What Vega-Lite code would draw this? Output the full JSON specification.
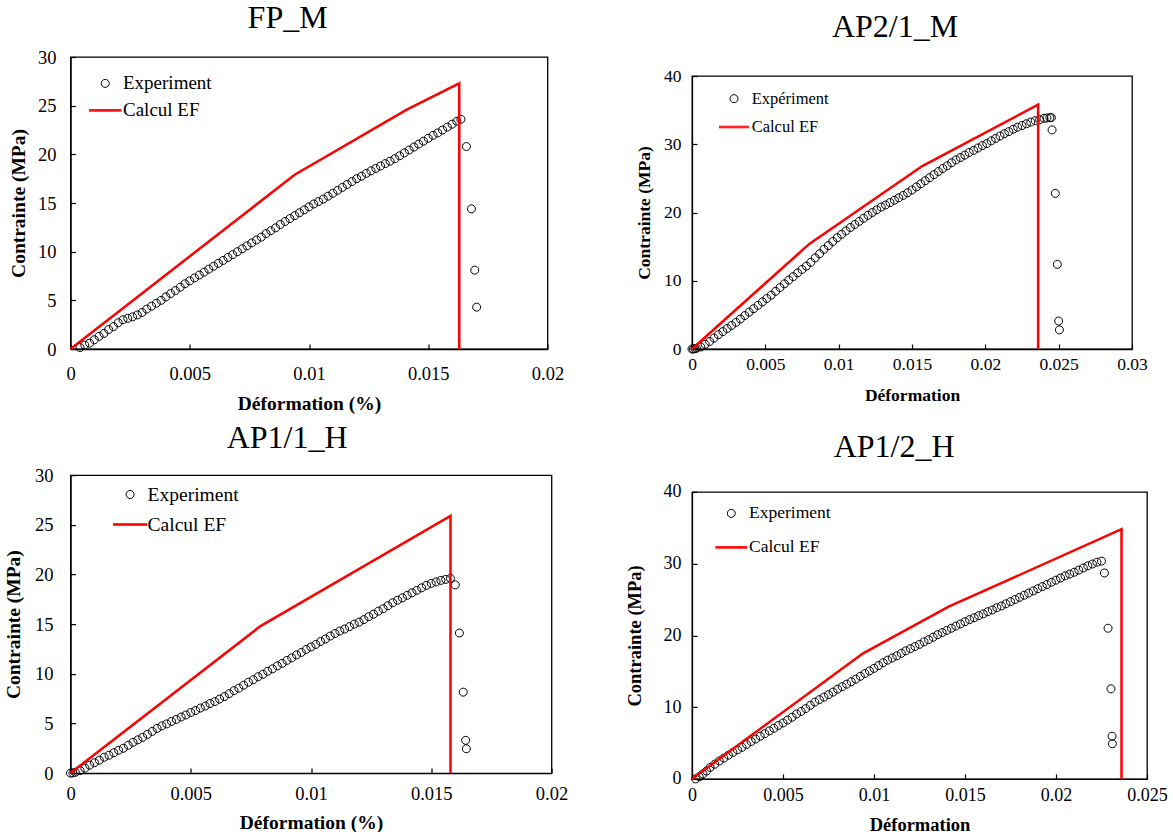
{
"$schema":"https://vega.github.io/schema/vega-lite/v6.json",
"background":"white",
"padding":{"left":2.5,"top":1,"right":5,"bottom":0},
"spacing":55.5,
"resolve":{"scale":{"x":"independent","y":"independent","stroke":"independent","shape":"independent"},"legend":{"stroke":"independent","shape":"independent"}},
"config":{
 "view":{"stroke":"black","strokeWidth":1.3},
 "axis":{"labelFont":"Liberation Serif","titleFont":"Liberation Serif","labelColor":"black","titleColor":"black","domainColor":"black","tickColor":"black","grid":false,"titleFontWeight":"bold","domainWidth":1.3,"tickWidth":1.2,"tickSize":-5,"labelOverlap":false,"labelFlush":false},
 "legend":{"labelFont":"Liberation Serif","labelColor":"black","padding":0,"symbolSize":400,"symbolStrokeWidth":1,"orient":"none"},
 "title":{"font":"Liberation Serif","fontWeight":"normal","color":"black","fontSize":32,"anchor":"middle","frame":"bounds"}
},
"datasets":{
"p1e":[{"x":0.0004,"y":0.15},{"x":0.0006,"y":0.4},{"x":0.0008,"y":0.6},{"x":0.001,"y":0.95},{"x":0.0012,"y":1.3},{"x":0.0014,"y":1.6},{"x":0.0016,"y":2.0},{"x":0.0018,"y":2.3},{"x":0.002,"y":2.7},{"x":0.0022,"y":3.0},{"x":0.0024,"y":3.15},{"x":0.0026,"y":3.3},{"x":0.0028,"y":3.5},{"x":0.003,"y":3.75},{"x":0.0032,"y":4.1},{"x":0.0034,"y":4.4},{"x":0.0036,"y":4.7},{"x":0.0038,"y":5.0},{"x":0.004,"y":5.35},{"x":0.0042,"y":5.7},{"x":0.0044,"y":6.0},{"x":0.0046,"y":6.35},{"x":0.0048,"y":6.7},{"x":0.005,"y":7.0},{"x":0.0052,"y":7.3},{"x":0.0054,"y":7.6},{"x":0.0056,"y":7.9},{"x":0.0058,"y":8.2},{"x":0.006,"y":8.5},{"x":0.0062,"y":8.8},{"x":0.0064,"y":9.1},{"x":0.0066,"y":9.4},{"x":0.0068,"y":9.7},{"x":0.007,"y":10.0},{"x":0.0072,"y":10.3},{"x":0.0074,"y":10.6},{"x":0.0076,"y":10.9},{"x":0.0078,"y":11.2},{"x":0.008,"y":11.5},{"x":0.0082,"y":11.85},{"x":0.0084,"y":12.15},{"x":0.0086,"y":12.45},{"x":0.0088,"y":12.8},{"x":0.009,"y":13.1},{"x":0.0092,"y":13.4},{"x":0.0094,"y":13.7},{"x":0.0096,"y":14.0},{"x":0.0098,"y":14.3},{"x":0.01,"y":14.6},{"x":0.0102,"y":14.9},{"x":0.0104,"y":15.15},{"x":0.0106,"y":15.4},{"x":0.0108,"y":15.7},{"x":0.011,"y":16.0},{"x":0.0112,"y":16.3},{"x":0.0114,"y":16.6},{"x":0.0116,"y":16.9},{"x":0.0118,"y":17.2},{"x":0.012,"y":17.5},{"x":0.0122,"y":17.75},{"x":0.0124,"y":18.05},{"x":0.0126,"y":18.3},{"x":0.0128,"y":18.55},{"x":0.013,"y":18.8},{"x":0.0132,"y":19.05},{"x":0.0134,"y":19.3},{"x":0.0136,"y":19.55},{"x":0.0138,"y":19.85},{"x":0.014,"y":20.15},{"x":0.0142,"y":20.45},{"x":0.0144,"y":20.75},{"x":0.0146,"y":21.05},{"x":0.0148,"y":21.35},{"x":0.015,"y":21.65},{"x":0.0152,"y":21.95},{"x":0.0154,"y":22.2},{"x":0.0156,"y":22.5},{"x":0.0158,"y":22.8},{"x":0.016,"y":23.1},{"x":0.0162,"y":23.4},{"x":0.01637,"y":23.6},{"x":0.0166,"y":20.8},{"x":0.01681,"y":14.4},{"x":0.01695,"y":8.1},{"x":0.01703,"y":4.3}],
"p1c":[{"x":0,"y":0},{"x":0.0094,"y":17.9},{"x":0.0141,"y":24.6},{"x":0.0163,"y":27.3},{"x":0.0163,"y":0}],
"p2e":[{"x":0,"y":0},{"x":0.0001,"y":0},{"x":0.0002,"y":0.05},{"x":0.0003,"y":0.1},{"x":0.0006,"y":0.3},{"x":0.0009,"y":0.7},{"x":0.0012,"y":1.1},{"x":0.0015,"y":1.6},{"x":0.0018,"y":2.1},{"x":0.0021,"y":2.55},{"x":0.0024,"y":3.0},{"x":0.0027,"y":3.45},{"x":0.003,"y":3.9},{"x":0.0033,"y":4.4},{"x":0.0036,"y":4.9},{"x":0.0039,"y":5.4},{"x":0.0042,"y":5.9},{"x":0.0045,"y":6.4},{"x":0.0048,"y":6.9},{"x":0.0051,"y":7.4},{"x":0.0054,"y":7.9},{"x":0.0057,"y":8.45},{"x":0.006,"y":9.0},{"x":0.0063,"y":9.55},{"x":0.0066,"y":10.1},{"x":0.0069,"y":10.6},{"x":0.0072,"y":11.15},{"x":0.0075,"y":11.65},{"x":0.0078,"y":12.15},{"x":0.0081,"y":12.7},{"x":0.0084,"y":13.35},{"x":0.0087,"y":13.95},{"x":0.009,"y":14.6},{"x":0.0093,"y":15.15},{"x":0.0096,"y":15.75},{"x":0.0099,"y":16.3},{"x":0.0102,"y":16.8},{"x":0.0105,"y":17.3},{"x":0.0108,"y":17.8},{"x":0.0111,"y":18.25},{"x":0.0114,"y":18.7},{"x":0.0117,"y":19.15},{"x":0.012,"y":19.6},{"x":0.0123,"y":20.0},{"x":0.0126,"y":20.4},{"x":0.0129,"y":20.8},{"x":0.0132,"y":21.1},{"x":0.0135,"y":21.45},{"x":0.0138,"y":21.8},{"x":0.0141,"y":22.15},{"x":0.0144,"y":22.5},{"x":0.0147,"y":22.9},{"x":0.015,"y":23.3},{"x":0.0153,"y":23.75},{"x":0.0156,"y":24.2},{"x":0.0159,"y":24.65},{"x":0.0162,"y":25.1},{"x":0.0165,"y":25.55},{"x":0.0168,"y":26.0},{"x":0.0171,"y":26.45},{"x":0.0174,"y":26.85},{"x":0.0177,"y":27.3},{"x":0.018,"y":27.7},{"x":0.0183,"y":28.05},{"x":0.0186,"y":28.4},{"x":0.0189,"y":28.8},{"x":0.0192,"y":29.1},{"x":0.0195,"y":29.45},{"x":0.0198,"y":29.8},{"x":0.0201,"y":30.1},{"x":0.0204,"y":30.5},{"x":0.0207,"y":30.85},{"x":0.021,"y":31.2},{"x":0.0213,"y":31.55},{"x":0.0216,"y":31.85},{"x":0.0219,"y":32.2},{"x":0.0222,"y":32.5},{"x":0.0225,"y":32.75},{"x":0.0228,"y":33.0},{"x":0.0231,"y":33.25},{"x":0.0234,"y":33.45},{"x":0.0237,"y":33.6},{"x":0.024,"y":33.8},{"x":0.0242,"y":33.85},{"x":0.0244,"y":33.9},{"x":0.0245,"y":33.9},{"x":0.02455,"y":32.1},{"x":0.02477,"y":22.8},{"x":0.02491,"y":12.4},{"x":0.025,"y":4.1},{"x":0.02505,"y":2.8}],
"p2c":[{"x":0,"y":0},{"x":0.008,"y":15.4},{"x":0.0157,"y":26.8},{"x":0.0236,"y":35.8},{"x":0.0236,"y":0}],
"p3e":[{"x":0,"y":0},{"x":0.0001,"y":0.02},{"x":0.0002,"y":0.08},{"x":0.0004,"y":0.25},{"x":0.0006,"y":0.5},{"x":0.0008,"y":0.8},{"x":0.001,"y":1.05},{"x":0.0012,"y":1.3},{"x":0.0014,"y":1.6},{"x":0.0016,"y":1.8},{"x":0.0018,"y":2.05},{"x":0.002,"y":2.3},{"x":0.0022,"y":2.5},{"x":0.0024,"y":2.8},{"x":0.0026,"y":3.1},{"x":0.0028,"y":3.35},{"x":0.003,"y":3.6},{"x":0.0032,"y":3.9},{"x":0.0034,"y":4.2},{"x":0.0036,"y":4.5},{"x":0.0038,"y":4.75},{"x":0.004,"y":4.95},{"x":0.0042,"y":5.2},{"x":0.0044,"y":5.4},{"x":0.0046,"y":5.65},{"x":0.0048,"y":5.85},{"x":0.005,"y":6.1},{"x":0.0052,"y":6.3},{"x":0.0054,"y":6.55},{"x":0.0056,"y":6.75},{"x":0.0058,"y":7.0},{"x":0.006,"y":7.2},{"x":0.0062,"y":7.45},{"x":0.0064,"y":7.7},{"x":0.0066,"y":8.0},{"x":0.0068,"y":8.3},{"x":0.007,"y":8.55},{"x":0.0072,"y":8.85},{"x":0.0074,"y":9.15},{"x":0.0076,"y":9.4},{"x":0.0078,"y":9.7},{"x":0.008,"y":9.95},{"x":0.0082,"y":10.25},{"x":0.0084,"y":10.5},{"x":0.0086,"y":10.8},{"x":0.0088,"y":11.05},{"x":0.009,"y":11.35},{"x":0.0092,"y":11.6},{"x":0.0094,"y":11.9},{"x":0.0096,"y":12.15},{"x":0.0098,"y":12.45},{"x":0.01,"y":12.7},{"x":0.0102,"y":12.95},{"x":0.0104,"y":13.25},{"x":0.0106,"y":13.5},{"x":0.0108,"y":13.8},{"x":0.011,"y":14.05},{"x":0.0112,"y":14.3},{"x":0.0114,"y":14.5},{"x":0.0116,"y":14.75},{"x":0.0118,"y":15.0},{"x":0.012,"y":15.2},{"x":0.0122,"y":15.45},{"x":0.0124,"y":15.75},{"x":0.0126,"y":16.0},{"x":0.0128,"y":16.3},{"x":0.013,"y":16.55},{"x":0.0132,"y":16.85},{"x":0.0134,"y":17.15},{"x":0.0136,"y":17.4},{"x":0.0138,"y":17.65},{"x":0.014,"y":17.9},{"x":0.0142,"y":18.15},{"x":0.0144,"y":18.4},{"x":0.0146,"y":18.65},{"x":0.0148,"y":18.9},{"x":0.015,"y":19.1},{"x":0.0152,"y":19.25},{"x":0.0154,"y":19.4},{"x":0.0156,"y":19.5},{"x":0.0158,"y":19.6},{"x":0.016,"y":18.95},{"x":0.01617,"y":14.1},{"x":0.01633,"y":8.15},{"x":0.01643,"y":3.3},{"x":0.01646,"y":2.45}],
"p3c":[{"x":0,"y":0},{"x":0.0079,"y":14.8},{"x":0.0158,"y":25.9},{"x":0.0158,"y":0}],
"p4e":[{"x":0.0002,"y":0.0},{"x":0.0004,"y":0.3},{"x":0.0006,"y":0.7},{"x":0.0008,"y":1.1},{"x":0.001,"y":1.6},{"x":0.00125,"y":2.05},{"x":0.0015,"y":2.5},{"x":0.00175,"y":2.9},{"x":0.002,"y":3.3},{"x":0.00225,"y":3.7},{"x":0.0025,"y":4.05},{"x":0.00275,"y":4.4},{"x":0.003,"y":4.8},{"x":0.00325,"y":5.2},{"x":0.0035,"y":5.55},{"x":0.00375,"y":5.95},{"x":0.004,"y":6.3},{"x":0.00425,"y":6.7},{"x":0.0045,"y":7.05},{"x":0.00475,"y":7.45},{"x":0.005,"y":7.8},{"x":0.00525,"y":8.2},{"x":0.0055,"y":8.6},{"x":0.00575,"y":9.05},{"x":0.006,"y":9.4},{"x":0.00625,"y":9.8},{"x":0.0065,"y":10.25},{"x":0.00675,"y":10.7},{"x":0.007,"y":11.05},{"x":0.00725,"y":11.4},{"x":0.0075,"y":11.75},{"x":0.00775,"y":12.1},{"x":0.008,"y":12.5},{"x":0.00825,"y":12.85},{"x":0.0085,"y":13.2},{"x":0.00875,"y":13.55},{"x":0.009,"y":13.9},{"x":0.00925,"y":14.3},{"x":0.0095,"y":14.7},{"x":0.00975,"y":15.05},{"x":0.01,"y":15.4},{"x":0.01025,"y":15.8},{"x":0.0105,"y":16.2},{"x":0.01075,"y":16.55},{"x":0.011,"y":16.85},{"x":0.01125,"y":17.15},{"x":0.0115,"y":17.5},{"x":0.01175,"y":17.85},{"x":0.012,"y":18.15},{"x":0.01225,"y":18.45},{"x":0.0125,"y":18.75},{"x":0.01275,"y":19.1},{"x":0.013,"y":19.4},{"x":0.01325,"y":19.75},{"x":0.0135,"y":20.1},{"x":0.01375,"y":20.4},{"x":0.014,"y":20.7},{"x":0.01425,"y":21.0},{"x":0.0145,"y":21.3},{"x":0.01475,"y":21.6},{"x":0.015,"y":21.9},{"x":0.01525,"y":22.2},{"x":0.0155,"y":22.45},{"x":0.01575,"y":22.75},{"x":0.016,"y":23.0},{"x":0.01625,"y":23.3},{"x":0.0165,"y":23.55},{"x":0.01675,"y":23.85},{"x":0.017,"y":24.1},{"x":0.01725,"y":24.4},{"x":0.0175,"y":24.7},{"x":0.01775,"y":25.0},{"x":0.018,"y":25.3},{"x":0.01825,"y":25.6},{"x":0.0185,"y":25.9},{"x":0.01875,"y":26.2},{"x":0.019,"y":26.5},{"x":0.01925,"y":26.8},{"x":0.0195,"y":27.1},{"x":0.01975,"y":27.4},{"x":0.02,"y":27.7},{"x":0.02025,"y":28.0},{"x":0.0205,"y":28.3},{"x":0.02075,"y":28.55},{"x":0.021,"y":28.8},{"x":0.02125,"y":29.1},{"x":0.0215,"y":29.4},{"x":0.02175,"y":29.7},{"x":0.022,"y":29.95},{"x":0.02225,"y":30.2},{"x":0.0225,"y":30.35},{"x":0.02266,"y":28.7},{"x":0.02286,"y":21.0},{"x":0.02302,"y":12.55},{"x":0.02308,"y":5.95},{"x":0.0231,"y":4.9}],
"p4c":[{"x":0,"y":0},{"x":0.0094,"y":17.5},{"x":0.0141,"y":24.0},{"x":0.0236,"y":34.8},{"x":0.0236,"y":0}]
},
"hconcat":[
{"vconcat":[
 {"width":477,"height":292,
  "title":{"text":"FP_M","offset":13,"dx":1.5},
  "layer":[
   {"data":{"name":"p1e"},"mark":{"type":"point","filled":false,"size":400,"strokeWidth":1,"opacity":1},
    "encoding":{
     "x":{"field":"x","type":"quantitative","scale":{"domain":[0,0.02],"nice":false},"axis":{"values":[0,0.005,0.01,0.015,0.02],"format":"~g","title":"Déformation (%)","labelFontSize":18.5,"titleFontSize":19.5,"labelPadding":20,"titlePadding":12}},
     "y":{"field":"y","type":"quantitative","scale":{"domain":[0,30],"nice":false},"axis":{"values":[0,5,10,15,20,25,30],"title":"Contrainte (MPa)","labelFontSize":18.5,"titleFontSize":19.5,"labelPadding":19.5,"titlePadding":9}},
     "shape":{"datum":"Experiment","type":"nominal","scale":{"domain":["Experiment","Calcul EF"],"range":["M-0.4,0A0.4,0.4 0 1,0 0.4,0A0.4,0.4 0 1,0 -0.4,0Z","M-1.62,-0.08H1.62M-1.62,0H1.62M-1.62,0.08H1.62"]},
      "legend":{"title":null,"legendX":24.25,"legendY":15.9,"labelFontSize":19,"labelOffset":7.25,"rowPadding":6}},
     "stroke":{"datum":"Experiment","type":"nominal","scale":{"domain":["Experiment","Calcul EF"],"range":["black","red"]},
      "legend":{"title":null,"legendX":24.25,"legendY":15.9,"labelFontSize":19,"labelOffset":7.25,"rowPadding":6}}}},
   {"data":{"name":"p1c"},"mark":{"type":"line","strokeWidth":2.5},
    "encoding":{"x":{"field":"x","type":"quantitative"},"y":{"field":"y","type":"quantitative"},
     "stroke":{"datum":"Calcul EF","type":"nominal"}}}
  ]},
 {"width":481,"height":298,
  "title":{"text":"AP1/1_H","offset":11,"dx":1.5},
  "layer":[
   {"data":{"name":"p3e"},"mark":{"type":"point","filled":false,"size":400,"strokeWidth":1,"opacity":1},
    "encoding":{
     "x":{"field":"x","type":"quantitative","scale":{"domain":[0,0.02],"nice":false},"axis":{"values":[0,0.005,0.01,0.015,0.02],"format":"~g","title":"Déformation (%)","labelFontSize":18.5,"titleFontSize":19.5,"labelPadding":16,"titlePadding":11}},
     "y":{"field":"y","type":"quantitative","scale":{"domain":[0,30],"nice":false},"axis":{"values":[0,5,10,15,20,25,30],"title":"Contrainte (MPa)","labelFontSize":18.5,"titleFontSize":19.5,"labelPadding":22.5,"titlePadding":11}},
     "shape":{"datum":"Experiment","type":"nominal","scale":{"domain":["Experiment","Calcul EF"],"range":["M-0.4,0A0.4,0.4 0 1,0 0.4,0A0.4,0.4 0 1,0 -0.4,0Z","M-1.7,-0.08H1.7M-1.7,0H1.7M-1.7,0.08H1.7"]},
      "legend":{"title":null,"legendX":49.1,"legendY":8.9,"labelFontSize":19.5,"labelOffset":7,"rowPadding":10}},
     "stroke":{"datum":"Experiment","type":"nominal","scale":{"domain":["Experiment","Calcul EF"],"range":["black","red"]},
      "legend":{"title":null,"legendX":49.1,"legendY":8.9,"labelFontSize":19.5,"labelOffset":7,"rowPadding":10}}}},
   {"data":{"name":"p3c"},"mark":{"type":"line","strokeWidth":2.5},
    "encoding":{"x":{"field":"x","type":"quantitative"},"y":{"field":"y","type":"quantitative"},
     "stroke":{"datum":"Calcul EF","type":"nominal"}}}
  ]}
 ],"spacing":7.1,
 "resolve":{"scale":{"x":"independent","y":"independent","stroke":"independent","shape":"independent"},"legend":{"stroke":"independent","shape":"independent"}}},
{"vconcat":[
 {"vconcat":[
  {"width":440,"height":8,"title":{"text":"AP2/1_M","offset":13,"dx":-17},"view":{"stroke":"transparent","fill":"transparent"},"data":{"values":[]},"mark":"point"},
  {"width":440,"height":273,
  "layer":[
   {"data":{"name":"p2e"},"mark":{"type":"point","filled":false,"size":400,"strokeWidth":1,"opacity":1},
    "encoding":{
     "x":{"field":"x","type":"quantitative","scale":{"domain":[0,0.03],"nice":false},"axis":{"values":[0,0.005,0.01,0.015,0.02,0.025,0.03],"format":"~g","title":"Déformation","labelFontSize":17.5,"titleFontSize":17.5,"labelPadding":11,"titlePadding":14}},
     "y":{"field":"y","type":"quantitative","scale":{"domain":[0,40],"nice":false},"axis":{"values":[0,5,10,15,20,25,30,35,40],"title":"Contrainte (MPa)","labelFontSize":17.5,"titleFontSize":17.5,"labelPadding":16,"titlePadding":10}},
     "shape":{"datum":"Experiment","type":"nominal","scale":{"domain":["Experiment","Calcul EF"],"range":["M-0.4,0A0.4,0.4 0 1,0 0.4,0A0.4,0.4 0 1,0 -0.4,0Z","M-1.5,-0.08H1.5M-1.5,0H1.5M-1.5,0.08H1.5"]},
      "legend":{"title":null,"legendX":31.5,"legendY":12.2,"labelFontSize":16.5,"labelOffset":7.2,"rowPadding":9.3,"labelExpr":"datum.label === 'Experiment' ? 'Expériment' : datum.label"}},
     "stroke":{"datum":"Experiment","type":"nominal","scale":{"domain":["Experiment","Calcul EF"],"range":["black","red"]},
      "legend":{"title":null,"legendX":31.5,"legendY":12.2,"labelFontSize":16.5,"labelOffset":7.2,"rowPadding":9.3,"labelExpr":"datum.label === 'Experiment' ? 'Expériment' : datum.label"}}}},
   {"data":{"name":"p2c"},"mark":{"type":"line","strokeWidth":2.5},
    "encoding":{"x":{"field":"x","type":"quantitative"},"y":{"field":"y","type":"quantitative"},
     "stroke":{"datum":"Calcul EF","type":"nominal"}}}
  ]}
 ],"spacing":0,
 "resolve":{"scale":{"x":"independent","y":"independent","stroke":"independent","shape":"independent"},"legend":{"stroke":"independent","shape":"independent"}}},
 {"width":455,"height":287,
  "title":{"text":"AP1/2_H","offset":19,"dx":-2},
  "layer":[
   {"data":{"name":"p4e"},"mark":{"type":"point","filled":false,"size":400,"strokeWidth":1,"opacity":1},
    "encoding":{
     "x":{"field":"x","type":"quantitative","scale":{"domain":[0,0.025],"nice":false},"axis":{"values":[0,0.005,0.01,0.015,0.02,0.025],"format":"~g","title":"Déformation","labelFontSize":18,"titleFontSize":18.5,"labelPadding":13,"titlePadding":11}},
     "y":{"field":"y","type":"quantitative","scale":{"domain":[0,40],"nice":false},"axis":{"values":[0,5,10,15,20,25,30,35,40],"title":"Contrainte (MPa)","labelFontSize":18,"titleFontSize":18.5,"labelPadding":16,"titlePadding":19}},
     "shape":{"datum":"Experiment","type":"nominal","scale":{"domain":["Experiment","Calcul EF"],"range":["M-0.4,0A0.4,0.4 0 1,0 0.4,0A0.4,0.4 0 1,0 -0.4,0Z","M-1.585,-0.08H1.585M-1.585,0H1.585M-1.585,0.08H1.585"]},
      "legend":{"title":null,"legendX":28.8,"legendY":11,"labelFontSize":17.5,"labelOffset":7.2,"rowPadding":15}},
     "stroke":{"datum":"Experiment","type":"nominal","scale":{"domain":["Experiment","Calcul EF"],"range":["black","red"]},
      "legend":{"title":null,"legendX":28.8,"legendY":11,"labelFontSize":17.5,"labelOffset":7.2,"rowPadding":15}}}},
   {"data":{"name":"p4c"},"mark":{"type":"line","strokeWidth":2.5},
    "encoding":{"x":{"field":"x","type":"quantitative"},"y":{"field":"y","type":"quantitative"},
     "stroke":{"datum":"Calcul EF","type":"nominal"}}}
  ]}
 ],"spacing":24.9,
 "resolve":{"scale":{"x":"independent","y":"independent","stroke":"independent","shape":"independent"},"legend":{"stroke":"independent","shape":"independent"}}}
]
}
